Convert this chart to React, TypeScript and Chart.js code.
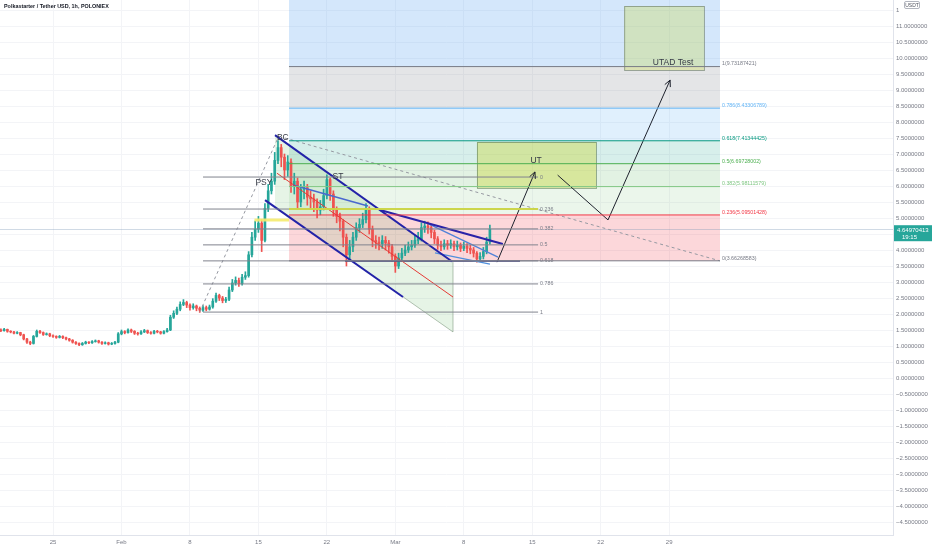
import React, { useEffect, useRef } from 'react';
import Chart from 'chart.js/auto';

const TITLE = 'Polkastarter / Tether USD, 1h, POLONIEX';

// 8h candles, day 0 = 25 Jan
const CANDLE_START = -5.33;
const CANDLE_STEP = 1 / 3;
const FIRST_OPEN = 1.5;

const closes = [
  1.48, 1.52, 1.46, 1.44, 1.40, 1.42, 1.35, 1.22, 1.12, 1.08,
  1.30, 1.46, 1.42, 1.36, 1.38, 1.32, 1.30, 1.27, 1.30, 1.26,
  1.22, 1.18, 1.12, 1.08, 1.04, 1.08, 1.12, 1.10, 1.14, 1.16,
  1.12, 1.08, 1.10, 1.06, 1.08, 1.12, 1.38, 1.45, 1.42, 1.50,
  1.46, 1.40, 1.38, 1.44, 1.48, 1.42, 1.40, 1.46, 1.44, 1.40,
  1.45, 1.50, 1.90, 2.02, 2.15, 2.30, 2.36, 2.28, 2.20, 2.25,
  2.18, 2.12, 2.20, 2.15, 2.22, 2.40, 2.58, 2.50, 2.42, 2.46,
  2.75, 2.97, 3.05, 2.95, 3.15, 3.20, 3.85, 4.40, 4.65, 4.84,
  4.30, 5.30, 5.85, 6.15, 6.80, 7.20, 6.90, 6.50, 6.75, 6.00,
  6.15, 5.50, 5.90, 5.95, 5.65, 5.60, 5.50, 5.25, 5.35, 5.70,
  6.20, 5.75, 5.25, 5.05, 4.90, 4.40, 3.85, 4.10, 4.40, 4.70,
  4.80, 4.95, 5.30, 4.65, 4.30, 4.25, 4.20, 4.30, 4.22, 4.10,
  3.80, 3.50, 3.75, 3.90, 4.00, 4.10, 4.15, 4.30, 4.35, 4.70,
  4.75, 4.70, 4.55, 4.35, 4.15, 4.10, 4.20, 4.15, 4.20, 4.10,
  4.15, 4.05, 4.12, 4.05, 4.00, 3.90, 3.72, 3.80, 3.95, 4.25,
  4.65,
];

const highs = [
  1.54, 1.55, 1.53, 1.48, 1.46, 1.45, 1.43, 1.37, 1.24, 1.15,
  1.33, 1.50, 1.49, 1.44, 1.41, 1.40, 1.35, 1.32, 1.33, 1.32,
  1.28, 1.24, 1.20, 1.14, 1.10, 1.11, 1.15, 1.14, 1.17, 1.19,
  1.18, 1.14, 1.13, 1.12, 1.11, 1.15, 1.42, 1.50, 1.48, 1.54,
  1.53, 1.48, 1.43, 1.48, 1.52, 1.50, 1.45, 1.49, 1.49, 1.46,
  1.48, 1.55, 1.96, 2.10, 2.22, 2.38, 2.45, 2.40, 2.32, 2.32,
  2.28, 2.22, 2.26, 2.25, 2.28, 2.48, 2.65, 2.62, 2.55, 2.52,
  2.84, 3.08, 3.16, 3.12, 3.24, 3.32, 3.95, 4.55, 4.90, 5.05,
  4.95, 5.45, 6.05, 6.40, 7.05, 7.42, 7.30, 7.00, 6.95, 6.85,
  6.40, 6.25, 6.05, 6.15, 6.05, 5.85, 5.75, 5.60, 5.55, 5.90,
  6.35, 6.25, 5.85, 5.35, 5.15, 4.95, 4.50, 4.30, 4.55, 4.85,
  4.98, 5.15, 5.45, 5.35, 4.75, 4.45, 4.40, 4.45, 4.42, 4.30,
  4.18, 3.88, 3.90, 4.05, 4.15, 4.25, 4.30, 4.45, 4.55, 4.85,
  4.90, 4.88, 4.78, 4.62, 4.42, 4.28, 4.32, 4.30, 4.32, 4.28,
  4.28, 4.22, 4.25, 4.20, 4.15, 4.08, 3.95, 3.92, 4.08, 4.40,
  4.78,
];

const lows = [
  1.45, 1.46, 1.43, 1.41, 1.38, 1.38, 1.32, 1.19, 1.08, 1.04,
  1.06, 1.28, 1.39, 1.33, 1.34, 1.29, 1.27, 1.24, 1.25, 1.23,
  1.19, 1.15, 1.09, 1.05, 1.01, 1.02, 1.06, 1.07, 1.08, 1.12,
  1.09, 1.05, 1.06, 1.03, 1.04, 1.06, 1.10, 1.35, 1.38, 1.40,
  1.42, 1.36, 1.34, 1.36, 1.42, 1.39, 1.37, 1.38, 1.41, 1.37,
  1.38, 1.43, 1.48, 1.86, 1.98, 2.10, 2.26, 2.20, 2.12, 2.15,
  2.10, 2.05, 2.08, 2.10, 2.12, 2.18, 2.36, 2.42, 2.35, 2.36,
  2.42, 2.70, 2.90, 2.86, 2.90, 3.08, 3.15, 3.78, 4.30, 4.55,
  3.95, 4.25, 5.20, 5.75, 6.05, 6.70, 6.60, 6.20, 6.30, 5.80,
  5.75, 5.30, 5.35, 5.60, 5.40, 5.30, 5.20, 5.00, 5.10, 5.25,
  5.60, 5.55, 5.05, 4.85, 4.60, 4.10, 3.50, 3.70, 3.95, 4.30,
  4.55, 4.70, 4.85, 4.50, 4.10, 4.05, 4.00, 4.05, 4.00, 3.90,
  3.65, 3.30, 3.42, 3.65, 3.82, 3.92, 4.00, 4.08, 4.20, 4.28,
  4.55, 4.52, 4.38, 4.20, 4.02, 3.98, 4.02, 4.02, 4.05, 3.98,
  4.00, 3.95, 3.98, 3.92, 3.88, 3.78, 3.62, 3.65, 3.72, 3.88,
  4.18,
];

const dayTicks = [0, 7, 14, 21, 28, 35, 42, 49, 56, 63];
const dayLabels = ['25', 'Feb', '8', '15', '22', 'Mar', '8', '15', '22', '29'];

const lastPrice = 4.64970413;
const countdown = '19:15';

// big fib retracement (right)
const fibLevels = ['0', '0.236', '0.382', '0.5', '0.618', '0.786', '1'];
const fibPrices = [3.66268583, 5.09501428, 5.98111579, 6.69728002, 7.41344425, 8.43306789, 9.73187421];
const fibTopPrice = 13.48;
const fibDays = [24.13, 68.2];

// small fib retracement (left)
const fib2Prices = [6.28, 5.28, 4.66, 4.16, 3.66, 2.94, 2.06];
const fib2Days = [15.34, 49.6];

// drawings, points are [day, price]
const channelUpper = [[22.7, 7.59], [40.9, 3.62]];
const channelLower = [[22.7, 5.34], [40.9, 1.44]];
const channelMid = [[22.9, 6.4], [40.9, 2.53]];
const navyUpper = [[22.7, 7.59], [40.8, 3.64]];
const navyLower = [[21.68, 5.56], [35.79, 2.53]];
const stLine = [[24.54, 6.03], [32.2, 5.375]];
const wedgeTop = [[33.44, 5.25], [46.0, 4.19]];
const wedgeMid = [[38.24, 4.84], [45.5, 3.78]];
const wedgeLow = [[39.06, 3.91], [44.68, 3.56]];
const support = [[29.86, 3.66], [47.75, 3.66]];
const riseDash = [[15.0, 2.06], [23.0, 7.5]];
const fallDash = [[23.7, 7.5], [68.2, 3.66]];
const yellowLine = [[24.13, 5.28], [49.6, 5.28]];
const yellowShort = [[20.6, 4.94], [24.13, 4.94]];
const utArrow = [[45.4, 3.62], [49.28, 6.44]];
const utadPath = [[51.6, 6.34], [56.75, 4.94], [63.1, 9.31]];

// boxes: [dayFrom, dayTo, priceTop, priceBottom]
const utBox = [43.35, 55.52, 7.375, 5.94];
const utadBox = [58.4, 66.56, 11.625, 9.625];

const phaseLabels: [string, number, number][] = [
  ['BC', 23.5, 7.5],
  ['PSY', 21.57, 6.09],
  ['ST', 29.14, 6.28],
  ['UT', 49.4, 6.78],
  ['UTAD Test', 63.4, 9.84],
];

const UP = '#26a69a';
const DOWN = '#ef5350';
const FONT = "'Liberation Sans', Arial, sans-serif";
const fibColors = ['#787b86', '#f23645', '#81c784', '#4caf50', '#089981', '#64b5f6', '#787b86'];
const bandFills = [
  'rgba(242,54,69,0.2)',
  'rgba(129,199,132,0.16)',
  'rgba(76,175,80,0.16)',
  'rgba(8,153,129,0.16)',
  'rgba(100,181,246,0.2)',
  'rgba(120,123,134,0.2)',
  'rgba(100,170,240,0.28)',
];

function fmtPrice(v: number) {
  const s = Math.abs(v).toFixed(7);
  return v < -1e-9 ? '\u2212' + s : s;
}

function arrowHead(ctx: CanvasRenderingContext2D, x1: number, y1: number, x2: number, y2: number) {
  const a = Math.atan2(y2 - y1, x2 - x1);
  const len = 7;
  ctx.beginPath();
  ctx.moveTo(x2 - len * Math.cos(a - 0.45), y2 - len * Math.sin(a - 0.45));
  ctx.lineTo(x2, y2);
  ctx.lineTo(x2 - len * Math.cos(a + 0.45), y2 - len * Math.sin(a + 0.45));
  ctx.stroke();
}

function noPad(scale: any) {
  scale.paddingTop = 0;
  scale.paddingBottom = 0;
  scale.paddingLeft = 0;
  scale.paddingRight = 0;
}

export default function App() {
  const canvasRef = useRef<HTMLCanvasElement>(null);
  const chartRef = useRef<Chart | null>(null);

  useEffect(() => {
    document.body.style.margin = '0';
    if (!canvasRef.current) return;
    if (chartRef.current) chartRef.current.destroy();

    const candleDays = closes.map((_, i) => CANDLE_START + i * CANDLE_STEP);
    const opens = closes.map((_, i) => (i === 0 ? FIRST_OPEN : closes[i - 1]));
    const candleColors = closes.map((c, i) => (c >= opens[i] ? UP : DOWN));

    const seg = (pts: number[][], color: string, width: number, dash: number[] = []) => ({
      type: 'line',
      data: pts.map(([x, y]) => ({ x, y })),
      borderColor: color,
      borderWidth: width,
      borderDash: dash,
      pointRadius: 0,
      fill: false,
      tension: 0,
      order: 1,
    });

    const fibLines = fibPrices.map((p, i) => seg([[fibDays[0], p], [fibDays[1], p]], fibColors[i], 1));
    const fib2Lines = fib2Prices.map((p) => seg([[fib2Days[0], p], [fib2Days[1], p]], '#80838d', 1));

    const overlay = {
      id: 'overlay',
      beforeDatasetsDraw(chart: any) {
        const { ctx, chartArea, scales } = chart;
        const x = scales.x;
        const y = scales.y;
        const px = (d: number) => x.getPixelForValue(d);
        const py = (v: number) => y.getPixelForValue(v);
        ctx.save();
        ctx.beginPath();
        ctx.rect(chartArea.left, chartArea.top, chartArea.width, chartArea.height);
        ctx.clip();

        // fib bands
        const edges = [...fibPrices, fibTopPrice];
        const xl = px(fibDays[0]);
        const xr = px(fibDays[1]);
        for (let i = 0; i < edges.length - 1; i++) {
          const y0 = py(edges[i]);
          const y1 = py(edges[i + 1]);
          ctx.fillStyle = bandFills[i];
          ctx.fillRect(xl, y1, xr - xl, y0 - y1);
        }

        // parallel channel fill
        ctx.fillStyle = 'rgba(76,175,80,0.14)';
        ctx.beginPath();
        ctx.moveTo(px(channelUpper[0][0]), py(channelUpper[0][1]));
        ctx.lineTo(px(channelUpper[1][0]), py(channelUpper[1][1]));
        ctx.lineTo(px(channelLower[1][0]), py(channelLower[1][1]));
        ctx.lineTo(px(channelLower[0][0]), py(channelLower[0][1]));
        ctx.closePath();
        ctx.fill();
        ctx.strokeStyle = 'rgba(120,145,120,0.55)';
        ctx.lineWidth = 1;
        ctx.beginPath();
        ctx.moveTo(px(channelUpper[1][0]), py(channelUpper[1][1]));
        ctx.lineTo(px(channelLower[1][0]), py(channelLower[1][1]));
        ctx.lineTo(px(channelLower[0][0]), py(channelLower[0][1]));
        ctx.stroke();

        // boxes
        const box = (b: number[], fill: string, stroke: string) => {
          const bx = px(b[0]);
          const by = py(b[2]);
          const bw = px(b[1]) - bx;
          const bh = py(b[3]) - by;
          ctx.fillStyle = fill;
          ctx.fillRect(bx, by, bw, bh);
          ctx.strokeStyle = stroke;
          ctx.lineWidth = 1;
          ctx.strokeRect(bx + 0.5, by + 0.5, bw, bh);
        };
        box(utBox, 'rgba(200,215,60,0.42)', 'rgba(110,140,100,0.7)');
        box(utadBox, 'rgba(200,215,60,0.3)', 'rgba(120,135,115,0.7)');

        // last price line
        ctx.strokeStyle = 'rgba(120,150,180,0.35)';
        ctx.lineWidth = 1;
        ctx.beginPath();
        ctx.moveTo(chartArea.left, Math.round(py(lastPrice)) + 0.5);
        ctx.lineTo(chartArea.right, Math.round(py(lastPrice)) + 0.5);
        ctx.stroke();
        ctx.restore();
      },
      afterDatasetsDraw(chart: any) {
        const { ctx, scales } = chart;
        const px = (d: number) => scales.x.getPixelForValue(d);
        const py = (v: number) => scales.y.getPixelForValue(v);
        ctx.save();

        ctx.strokeStyle = '#1e222d';
        ctx.lineWidth = 1;
        arrowHead(ctx, px(utArrow[0][0]), py(utArrow[0][1]), px(utArrow[1][0]), py(utArrow[1][1]));
        const n = utadPath.length;
        arrowHead(ctx, px(utadPath[n - 2][0]), py(utadPath[n - 2][1]), px(utadPath[n - 1][0]), py(utadPath[n - 1][1]));

        // fib labels
        ctx.font = `5.3px ${FONT}`;
        ctx.textAlign = 'left';
        ctx.textBaseline = 'bottom';
        fibPrices.forEach((p, i) => {
          ctx.fillStyle = fibColors[i];
          ctx.fillText(`${fibLevels[i]}(${p.toFixed(8)})`, px(fibDays[1]) + 2, py(p));
        });
        ctx.textBaseline = 'middle';
        ctx.fillStyle = '#787b86';
        fib2Prices.forEach((p, i) => {
          ctx.fillText(fibLevels[i], px(fib2Days[1]) + 2, py(p));
        });

        // phase labels
        ctx.font = `8.5px ${FONT}`;
        ctx.textAlign = 'center';
        ctx.fillStyle = '#363a45';
        phaseLabels.forEach(([t, d, v]) => ctx.fillText(t, px(d), py(v)));
        ctx.restore();
      },
      afterDraw(chart: any) {
        const { ctx, chartArea, scales } = chart;
        const yp = scales.y.getPixelForValue(lastPrice);
        ctx.save();
        // title
        ctx.font = `bold 5.4px ${FONT}`;
        ctx.fillStyle = '#131722';
        ctx.textAlign = 'left';
        ctx.textBaseline = 'middle';
        ctx.fillText(TITLE, 4, 7);

        // last price tag
        const lx = chartArea.right + 1;
        ctx.fillStyle = '#26a69a';
        ctx.fillRect(lx, yp - 4, 932 - lx, 16);
        ctx.fillStyle = '#ffffff';
        ctx.font = `6px ${FONT}`;
        ctx.fillText(lastPrice.toFixed(8), lx + 3, yp + 1);
        ctx.fillText(countdown, lx + 8, yp + 8);

        // currency tag
        ctx.fillStyle = '#ffffff';
        ctx.fillRect(chartArea.right + 6, 1, 30, 11);
        ctx.strokeStyle = '#b2b5be';
        ctx.beginPath();
        ctx.roundRect(chartArea.right + 11.5, 1.5, 15, 7, 1.5);
        ctx.stroke();
        ctx.fillStyle = '#50535e';
        ctx.font = `5px ${FONT}`;
        ctx.textAlign = 'center';
        ctx.fillText('USDT', chartArea.right + 19, 5.2);
        ctx.restore();
      },
    };

    chartRef.current = new Chart(canvasRef.current, {
      type: 'bar',
      data: {
        datasets: [
          seg(yellowShort, 'rgba(245,235,110,0.9)', 3),
          seg(yellowLine, 'rgba(205,215,70,0.95)', 2),
          ...fib2Lines,
          ...fibLines,
          seg(channelMid, '#e53935', 1),
          seg(navyUpper, '#2323a8', 2),
          seg(navyLower, '#2323a8', 2),
          seg(stLine, '#4a68cf', 1.5),
          seg(wedgeTop, '#2a23a8', 2),
          seg(wedgeMid, '#4f82d8', 1.3),
          seg(wedgeLow, '#4f8fdc', 1.3),
          seg(support, '#2a2a7a', 1.5),
          seg(riseDash, '#9598a1', 1, [3, 3]),
          seg(fallDash, '#9598a1', 1, [3, 3]),
          seg(utArrow, '#1e222d', 1),
          seg(utadPath, '#1e222d', 1),
          {
            type: 'bar',
            data: candleDays.map((d, i) => ({ x: d, y: [lows[i], highs[i]] })),
            backgroundColor: candleColors,
            barThickness: 1,
            grouped: false,
            order: 10,
          },
          {
            type: 'bar',
            data: candleDays.map((d, i) => ({ x: d, y: [opens[i], closes[i]] })),
            backgroundColor: candleColors,
            barThickness: 2,
            grouped: false,
            order: 9,
          },
        ] as any,
      },
      options: {
        animation: false,
        responsive: true,
        maintainAspectRatio: false,
        events: [],
        layout: { padding: 0 },
        plugins: {
          legend: { display: false },
          tooltip: { enabled: false },
        },
        scales: {
          x: {
            type: 'linear',
            min: -5.42,
            max: 85.89,
            offset: false,
            afterBuildTicks: (scale: any) => {
              scale.ticks = dayTicks.map((v) => ({ value: v }));
            },
            afterFit: (scale: any) => {
              scale.height = 15;
              noPad(scale);
            },
            grid: { color: '#f3f4f7', drawTicks: false, offset: false },
            border: { color: '#e0e3eb' },
            ticks: {
              padding: 4,
              maxRotation: 0,
              autoSkip: false,
              color: '#787b86',
              font: { family: FONT, size: 6 },
              callback: (v: any) => dayLabels[dayTicks.indexOf(v)] ?? '',
            },
          },
          y: {
            type: 'linear',
            position: 'right',
            min: -4.906,
            max: 11.8125,
            beginAtZero: false,
            afterFit: (scale: any) => {
              scale.width = 39;
              noPad(scale);
            },
            grid: { color: '#f3f4f7', drawTicks: false },
            border: { color: '#e0e3eb' },
            ticks: {
              stepSize: 0.5,
              includeBounds: false,
              autoSkip: false,
              padding: 3,
              color: '#787b86',
              font: { family: FONT, size: 6 },
              callback: (v: any) => fmtPrice(Number(v)),
            },
          },
        },
      } as any,
      plugins: [overlay],
    });

    return () => {
      if (chartRef.current) {
        chartRef.current.destroy();
        chartRef.current = null;
      }
    };
  }, []);

  return (
    <div style={{ position: 'relative', width: 932, height: 550, background: '#ffffff' }}>
      <canvas ref={canvasRef}></canvas>
    </div>
  );
}
